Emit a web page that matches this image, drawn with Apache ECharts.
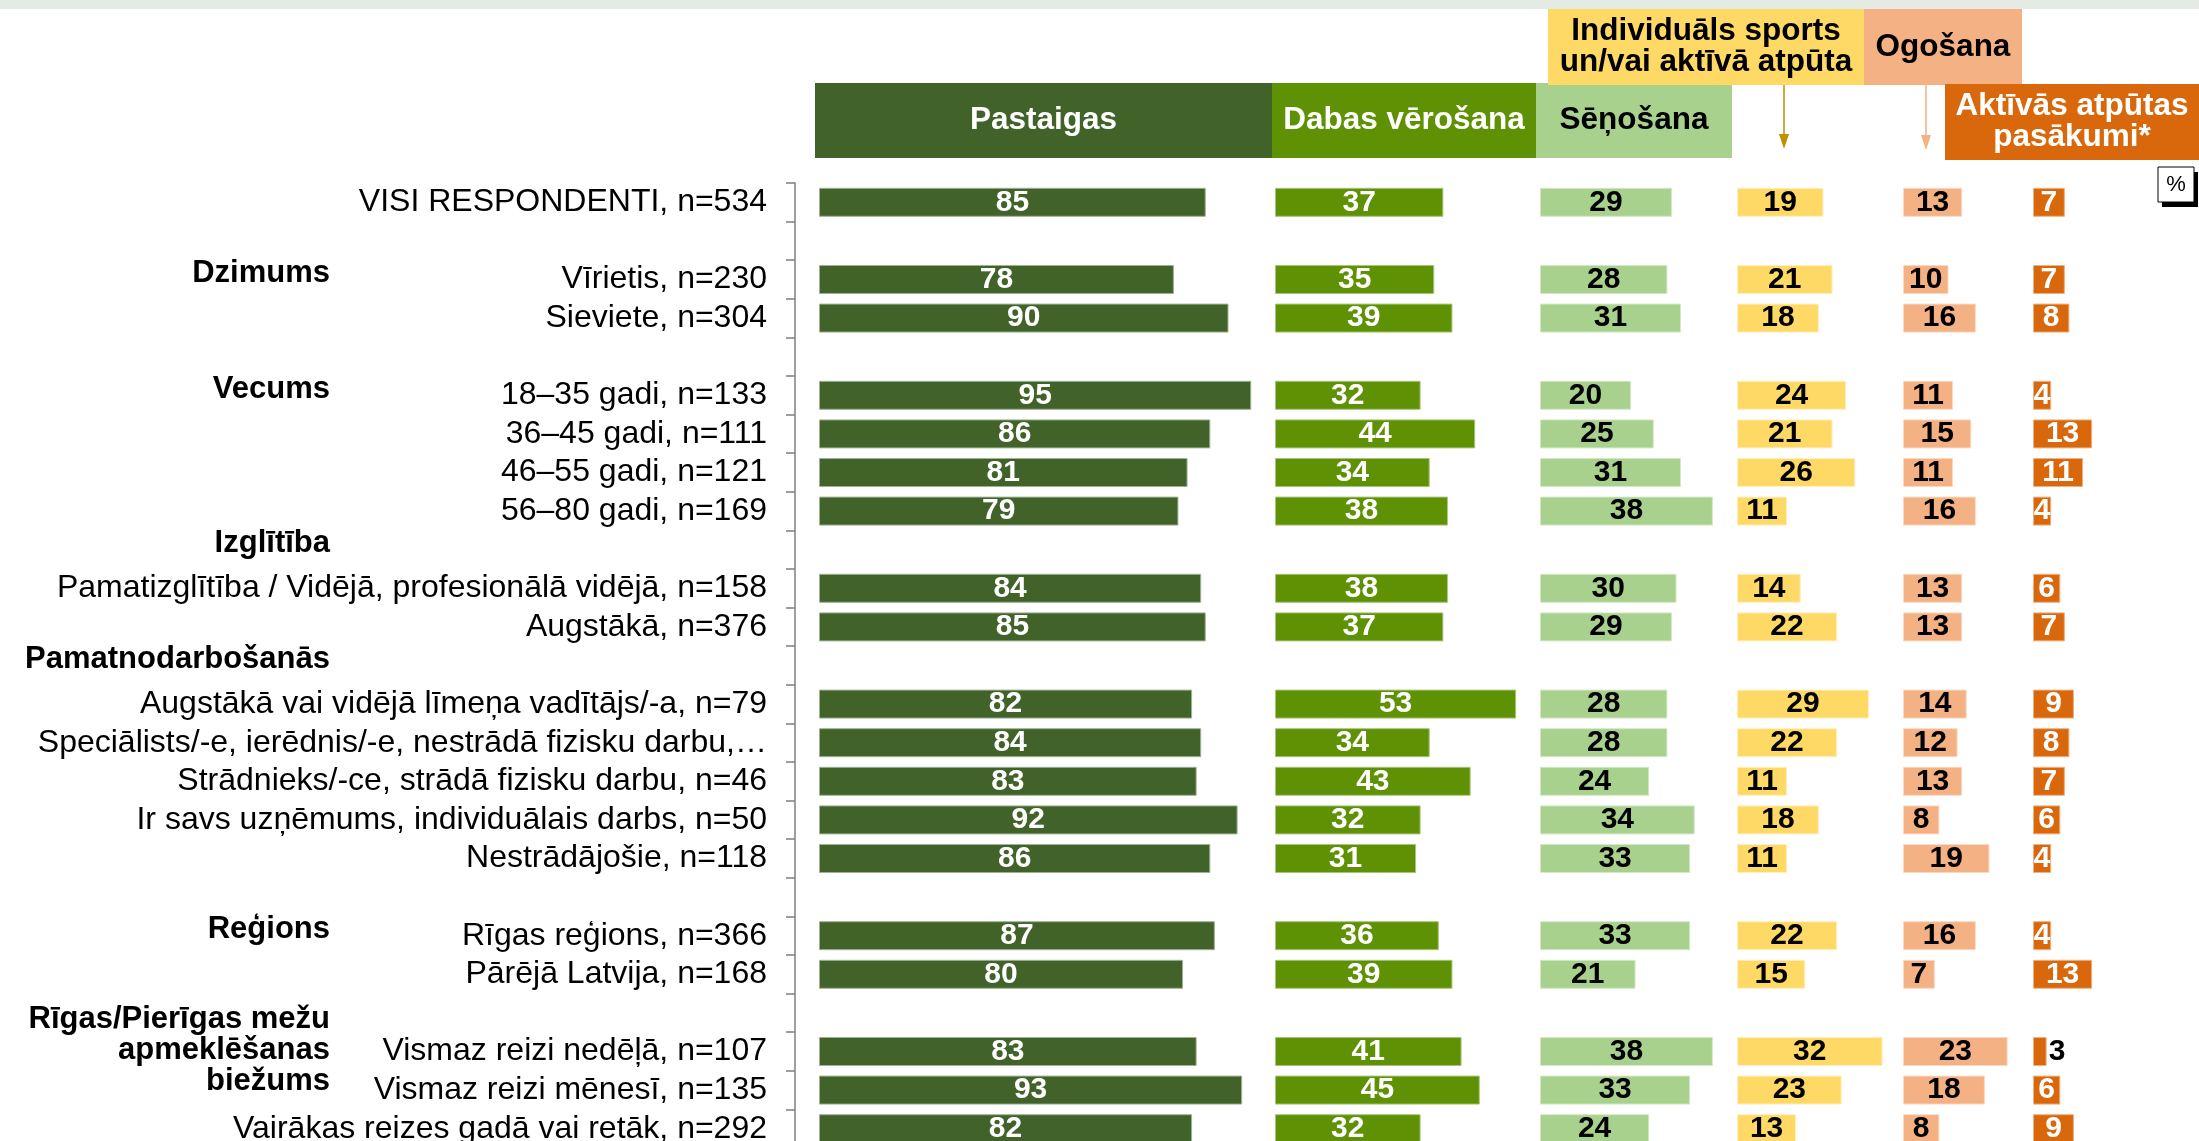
<!DOCTYPE html>
<html>
<head>
<meta charset="utf-8">
<title>Aktivitātes mežā</title>
<script src="https://cdn.jsdelivr.net/npm/echarts@6/dist/echarts.min.js"></script>
<style>
  html, body { margin: 0; padding: 0; background: #fff; }
  #chart { width: 2199px; height: 1141px; }
</style>
</head>
<body>
<div id="chart"></div>
<script>
  // rows of the chart, empty strings are spacer rows between the groups
  const rowLabels = [
    'VISI RESPONDENTI, n=534', '',
    'Vīrietis, n=230', 'Sieviete, n=304', '',
    '18–35 gadi, n=133', '36–45 gadi, n=111', '46–55 gadi, n=121', '56–80 gadi, n=169', '',
    'Pamatizglītība / Vidējā, profesionālā vidējā, n=158', 'Augstākā, n=376', '',
    'Augstākā vai vidējā līmeņa vadītājs/-a, n=79', 'Speciālists/-e, ierēdnis/-e, nestrādā fizisku darbu,…',
    'Strādnieks/-ce, strādā fizisku darbu, n=46', 'Ir savs uzņēmums, individuālais darbs, n=50',
    'Nestrādājošie, n=118', '',
    'Rīgas reģions, n=366', 'Pārējā Latvija, n=168', '',
    'Vismaz reizi nedēļā, n=107', 'Vismaz reizi mēnesī, n=135', 'Vairākas reizes gadā vai retāk, n=292'
  ];
  const groupLabels = [
    '', '', 'Dzimums', '', '', 'Vecums', '', '', '', 'Izglītība', '', '', 'Pamatnodarbošanās',
    '', '', '', '', '', '', 'Reģions', '', '', 'Rīgas/Pierīgas mežu\napmeklēšanas\nbiežums', '', ''
  ];

  const seriesNames = ['Pastaigas', 'Dabas vērošana', 'Sēņošana',
    'Individuāls sports un/vai aktīvā atpūta', 'Ogošana', 'Aktīvās atpūtas pasākumi*'];

  const pastaigas = [85, null, 78, 90, null, 95, 86, 81, 79, null, 84, 85, null, 82, 84, 83, 92, 86, null, 87, 80, null, 83, 93, 82];
  const dabasVerosana = [37, null, 35, 39, null, 32, 44, 34, 38, null, 38, 37, null, 53, 34, 43, 32, 31, null, 36, 39, null, 41, 45, 32];
  const senosana = [29, null, 28, 31, null, 20, 25, 31, 38, null, 30, 29, null, 28, 28, 24, 34, 33, null, 33, 21, null, 38, 33, 24];
  const individualsSports = [19, null, 21, 18, null, 24, 21, 26, 11, null, 14, 22, null, 29, 22, 11, 18, 11, null, 22, 15, null, 32, 23, 13];
  const ogosana = [13, null, 10, 16, null, 11, 15, 11, 16, null, 13, 13, null, 14, 12, 13, 8, 19, null, 16, 7, null, 23, 18, 8];
  const aktivasAtputas = [7, null, 7, 8, null, 4, 13, 11, 4, null, 6, 7, null, 9, 8, 7, 6, 4, null, 4, 13, null, 3, 6, 9];

  const allValues = [pastaigas, dabasVerosana, senosana, individualsSports, ogosana, aktivasAtputas];

  const colors = ['#41632a', '#5e9103', '#a9d18e', '#ffd966', '#f4b183', '#d9680c'];
  const edgeColors = ['#9fb294', '#a9c47a', '#d4e8c6', '#fff0c0', '#fbd9c0', '#eeb384'];
  const labelColors = ['#fff', '#fff', '#000', '#000', '#000', '#fff'];

  // where each column's zero sits and how wide its plot box is
  const columnLeft = [819, 1275, 1540, 1737, 1903, 2033];
  const columnWidth = [440, 250, 190, 160, 125, 160];
  const pxPerUnit = 4.55;
  const axisGap = 24; // gap between the category axis line and the first bars

  const FONT = "'Liberation Sans', Arial, sans-serif";
  const chartTop = 183;
  const rowHeight = 38.6;

  const chart = echarts.init(document.getElementById('chart'));

  const grids = [], xAxes = [], yAxes = [], series = [];

  columnLeft.forEach(function (left, i) {
    const gap = i === 0 ? axisGap : 0;
    grids.push({
      left: left - gap, top: chartTop, width: columnWidth[i] + gap,
      height: rowHeight * rowLabels.length, containLabel: false, outerBoundsMode: 'none'
    });
    xAxes.push({
      type: 'value', gridIndex: i, show: false,
      min: -gap / pxPerUnit, max: columnWidth[i] / pxPerUnit
    });
    yAxes.push({
      type: 'category', gridIndex: i, inverse: true, data: rowLabels, position: 'left',
      show: i === 0,
      axisLine: { show: true, onZero: false, lineStyle: { color: '#7f7f7f', width: 1.5 } },
      axisTick: { show: true, length: 9, lineStyle: { color: '#7f7f7f', width: 1.5 } },
      axisLabel: { interval: 0, margin: 28, color: '#000', fontFamily: FONT, fontSize: 32, padding: [3, 0, 0, 0] }
    });

    series.push({
      name: seriesNames[i],
      type: 'bar',
      xAxisIndex: i,
      yAxisIndex: i,
      barWidth: 29,
      itemStyle: { color: colors[i], borderColor: edgeColors[i], borderWidth: 1 },
      label: {
        show: true, position: 'inside', color: labelColors[i],
        fontFamily: FONT, fontWeight: 'bold', fontSize: 30
      },
      // tiny bars get their number outside, in black
      data: allValues[i].map(function (v) {
        if (v !== null && v < 4) {
          return { value: v, label: { position: 'right', distance: 2, color: '#000' } };
        }
        return v;
      })
    });
  });

  // group headings as a second category axis on the first grid
  yAxes.push({
    type: 'category', gridIndex: 0, inverse: true, data: rowLabels, position: 'left',
    axisLine: { show: false, onZero: false }, axisTick: { show: false },
    axisLabel: {
      interval: 0, margin: 465, color: '#000', fontFamily: FONT, fontSize: 31,
      fontWeight: 'bold', lineHeight: 31,
      formatter: function (v, idx) {
        const h = groupLabels[idx];
        if (!h) return '';
        // one-line headings sit a little above the row centre
        if (h.indexOf('\n') < 0) return '{one|' + h + '}';
        return h.split('\n').map(function (s) { return '{multi|' + s + '}'; }).join('\n');
      },
      rich: {
        one: { fontFamily: FONT, fontSize: 31, fontWeight: 'bold', lineHeight: 31, padding: [0, 0, 12, 0] },
        multi: { fontFamily: FONT, fontSize: 31, fontWeight: 'bold', lineHeight: 31, padding: [0, 0, 2, 0] }
      }
    }
  });

  function headerBox(x, y, w, h, fill, text, textFill) {
    return [
      { type: 'rect', shape: { x: x, y: y, width: w, height: h }, style: { fill: fill }, z: 1 },
      {
        type: 'text', z: 2,
        style: {
          x: x + w / 2, y: y + h / 2, text: text, fill: textFill,
          font: 'bold 31.5px ' + FONT, align: 'center', verticalAlign: 'middle', lineHeight: 31
        }
      }
    ];
  }

  function arrow(x, y1, y2, color) {
    return [
      { type: 'line', shape: { x1: x, y1: y1, x2: x, y2: y2 - 14 }, style: { stroke: color, lineWidth: 1.5 } },
      { type: 'polygon', shape: { points: [[x - 5, y2 - 15], [x + 5, y2 - 15], [x, y2]] }, style: { fill: color } }
    ];
  }

  const graphics = [].concat(
    [{ type: 'rect', shape: { x: 0, y: 0, width: 2199, height: 9 }, style: { fill: '#e4ebe4' } }],
    headerBox(815, 83, 457, 75, colors[0], 'Pastaigas', '#fff'),
    headerBox(1272, 83, 264, 75, colors[1], 'Dabas vērošana', '#fff'),
    headerBox(1536, 83, 196, 75, colors[2], 'Sēņošana', '#000'),
    headerBox(1548, 9, 316, 76, colors[3], 'Individuāls sports\nun/vai aktīvā atpūta', '#000'),
    headerBox(1864, 9, 158, 76, colors[4], 'Ogošana', '#000'),
    headerBox(1945, 84, 254, 76, colors[5], 'Aktīvās atpūtas\npasākumi*', '#fff'),
    arrow(1784, 85, 149, '#bf9000'),
    arrow(1926, 85, 150, '#f4b183'),
    [
      { type: 'rect', shape: { x: 2162, y: 172, width: 36, height: 35 }, style: { fill: '#000' } },
      { type: 'rect', shape: { x: 2158, y: 167, width: 36, height: 35 }, style: { fill: '#fff', stroke: '#000', lineWidth: 1 } },
      { type: 'text', style: { x: 2176, y: 185, text: '%', fill: '#000', font: '22px ' + FONT, align: 'center', verticalAlign: 'middle' } }
    ]
  );

  chart.setOption({
    animation: false,
    backgroundColor: '#fff',
    grid: grids,
    xAxis: xAxes,
    yAxis: yAxes,
    series: series,
    graphic: graphics
  });

  window.addEventListener('resize', function () {
    chart.resize();
  });
</script>
</body>
</html>
